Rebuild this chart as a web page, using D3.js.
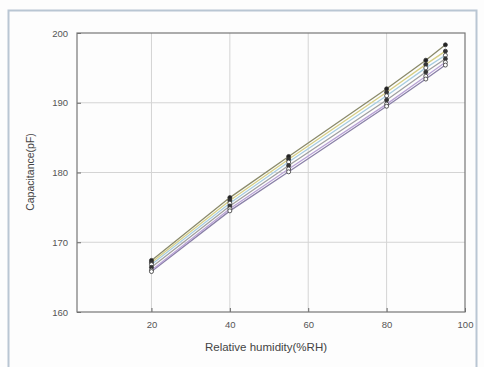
<!DOCTYPE html>
<html><head><meta charset="utf-8">
<script src="https://cdn.jsdelivr.net/npm/d3@7"></script>
<style>body{margin:0;background:#fff;}svg{display:block;}</style>
</head><body>
<svg id="c" width="484" height="367"></svg>
<script>
const humidity = [20, 40, 55, 80, 90, 95];
const s1 = [167.4, 176.4, 182.3, 192.0, 196.1, 198.3];
const s2 = [167.1, 176.0, 181.9, 191.5, 195.5, 197.4];
const s3 = [166.8, 175.6, 181.5, 191.0, 195.0, 196.8];
const s4 = [166.4, 175.2, 181.0, 190.4, 194.4, 196.3];
const s5 = [166.0, 174.8, 180.5, 189.8, 193.8, 195.8];
const s6 = [165.8, 174.5, 180.1, 189.5, 193.4, 195.4];
const xTicks = [20, 40, 60, 80, 100];
const yTicks = [160, 170, 180, 190, 200];

const series = [
  {v: s1, color: "#8a8a6a", fill: "#222"},
  {v: s2, color: "#d6cf86", fill: "#333"},
  {v: s3, color: "#a8cde0", fill: "#fff"},
  {v: s4, color: "#a0a0a0", fill: "#333"},
  {v: s5, color: "#b9a3d6", fill: "#fff"},
  {v: s6, color: "#8a80a8", fill: "#fff"}
];

const svg = d3.select("#c");
const L = 77, R = 465, T = 33, B = 312;
const x = d3.scaleLinear().domain([1, 100]).range([L, R]);
const y = d3.scaleLinear().domain([160, 200]).range([B, T]);

svg.append("rect").attr("width", 484).attr("height", 367).attr("fill", "#fdfdfd");
// outer frame
svg.append("path").attr("d", "M8.5,367 V10.5 H476.5 V367")
  .attr("fill", "none").attr("stroke", "#b9c6d3").attr("stroke-width", 2);

// grid
svg.append("g").selectAll("line").data(xTicks.slice(0, -1)).join("line")
  .attr("x1", d => x(d)).attr("x2", d => x(d)).attr("y1", T).attr("y2", B)
  .attr("stroke", "#d4d4d4").attr("stroke-width", 1);
svg.append("g").selectAll("line").data(yTicks.slice(1, -1)).join("line")
  .attr("x1", L).attr("x2", R).attr("y1", d => y(d)).attr("y2", d => y(d))
  .attr("stroke", "#d4d4d4").attr("stroke-width", 1);

// axes
const xa = svg.append("g").attr("transform", `translate(0,${B})`)
  .call(d3.axisBottom(x).tickValues(xTicks).tickSize(-4).tickPadding(9));
const ya = svg.append("g").attr("transform", `translate(${L},0)`)
  .call(d3.axisLeft(y).tickValues(yTicks).tickSize(-4).tickPadding(9));
[xa, ya].forEach(a => {
  a.select(".domain").remove();
  a.selectAll("line").attr("stroke", "#666");
  a.selectAll("text").attr("fill", "#555").style("font-family", "Liberation Sans, Arial, sans-serif").style("font-size", "9.5px");
});
svg.append("rect").attr("x", L).attr("y", T).attr("width", R - L).attr("height", B - T)
  .attr("fill", "none").attr("stroke", "#777").attr("stroke-width", 1.2);

// lines
const line = d3.line().x((d, i) => x(humidity[i])).y(d => y(d));
series.slice().reverse().forEach(s => {
  svg.append("path").datum(s.v).attr("d", line)
    .attr("fill", "none").attr("stroke", s.color).attr("stroke-width", 1.3);
});
series.forEach(s => {
  svg.append("g").selectAll("circle").data(s.v).join("circle")
    .attr("cx", (d, i) => x(humidity[i])).attr("cy", d => y(d)).attr("r", 2)
    .attr("fill", s.fill).attr("stroke", "#333").attr("stroke-width", 0.8);
});

// labels
svg.append("text").attr("x", 266).attr("y", 351).attr("text-anchor", "middle")
  .attr("fill", "#444").style("font-family", "Liberation Sans, Arial, sans-serif").style("font-size", "11.5px")
  .text("Relative humidity(%RH)");
svg.append("text").attr("transform", "translate(34,172) rotate(-90)").attr("text-anchor", "middle")
  .attr("fill", "#444").style("font-family", "Liberation Sans, Arial, sans-serif").style("font-size", "10.5px")
  .text("Capacitance(pF)");
</script>
</body></html>
